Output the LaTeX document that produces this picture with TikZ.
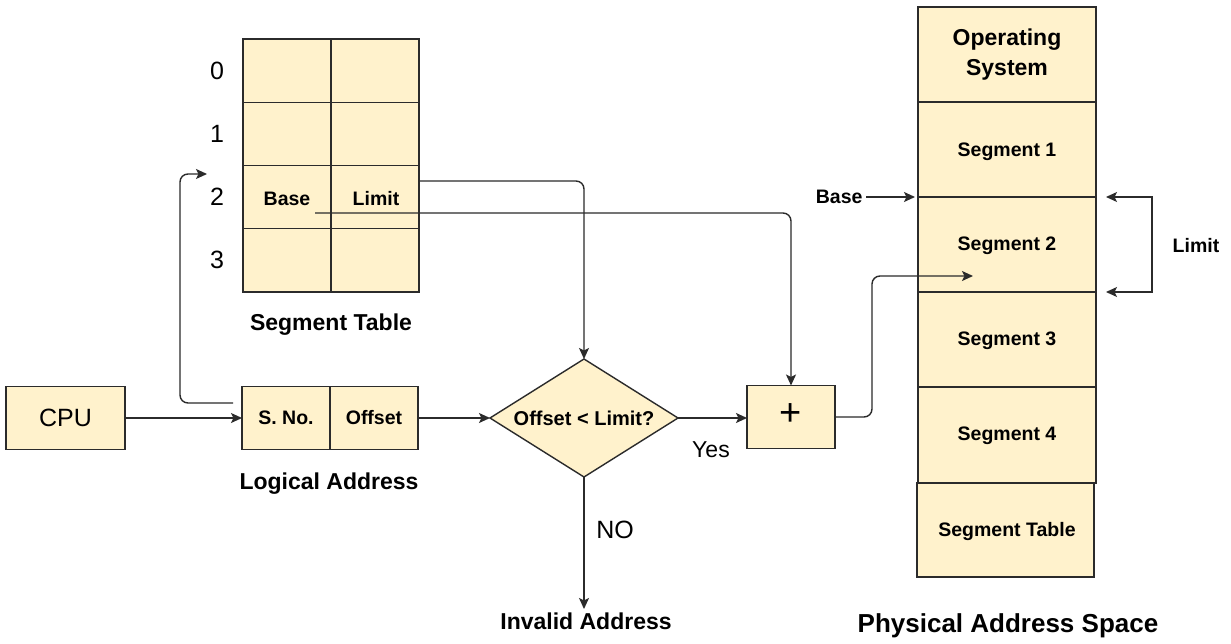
\documentclass[tikz,border=0pt]{standalone}
\usepackage{fontspec}
\setmainfont{Liberation Sans}
\usetikzlibrary{arrows.meta,shapes.geometric,calc}
\definecolor{boxfill}{HTML}{FFF2CC}
\definecolor{stroke}{HTML}{2B2B2B}
\begin{document}
\begin{tikzpicture}[x=1pt,y=-1pt,
  cellbox/.style={draw=stroke,fill=boxfill,line width=1.4pt,inner sep=0pt,outer sep=0pt},
  bl/.style={font=\fontsize{19.5}{22}\selectfont\bfseries},
  bigl/.style={font=\fontsize{23}{27}\selectfont\bfseries},
  reg/.style={font=\fontsize{25}{28}\selectfont},
  conn/.style={draw=stroke,line width=1.4pt,rounded corners=8pt},
  tip/.style={-{Stealth[length=11pt,width=10pt,inset=2.5pt]}},
  tipb/.style={{Stealth[length=11pt,width=10pt,inset=2.5pt]}-{Stealth[length=11pt,width=10pt,inset=2.5pt]}}
]
\useasboundingbox (0,0) rectangle (1231,644);
\fill[white] (0,0) rectangle (1231,644);

% Segment table
\foreach \r/\y in {0/70.625,1/133.875,2/197.125,3/260.375}{
  \node[cellbox,minimum width=88,minimum height=63.25] (ta\r) at (287,\y) {};
  \node[cellbox,minimum width=88,minimum height=63.25] (tb\r) at (375,\y) {};
  \node[reg,anchor=center] (rl\r) at (217,\y) {\r};
}
\node[bl] (basetxt) at (287,199) {Base};
\node[bl] (limtxt) at (376,199) {Limit};
\node[bigl] (sttitle) at (331,325) {Segment Table};

% CPU and logical address
\node[cellbox,minimum width=119,minimum height=63] (cpu) at (65.5,418) {};
\node[reg] at (cpu.center) {CPU};
\node[cellbox,minimum width=88,minimum height=63] (sno) at (286,418) {};
\node[bl] at (sno.center) {S. No.};
\node[cellbox,minimum width=88,minimum height=63] (off) at (374,418) {};
\node[bl] at (off.center) {Offset};
\node[bigl] (latitle) at (329,484) {Logical Address};

% Diamond
\node[draw=stroke,fill=boxfill,line width=1.4pt,shape=diamond,minimum width=188,minimum height=118,inner sep=0pt,outer sep=0pt] (dia) at (584,418) {};
\node[font=\fontsize{20}{23}\selectfont\bfseries] at (dia.center) {Offset < Limit?};

% Plus
\node[cellbox,minimum width=88,minimum height=63] (plus) at (791,417) {};
\node[font=\fontsize{38}{40}\selectfont] at (791,415) {+};
\node[font=\fontsize{23}{26}\selectfont] (yes) at (711,450) {Yes};
\node[font=\fontsize{25}{28}\selectfont] (no) at (615,530) {NO};
\node[bigl,anchor=north] (invalid) at (586,609) {Invalid Address};

% Physical memory
\node[cellbox,minimum width=178,minimum height=95] (os) at (1007,54.5) {};
\node[font=\fontsize{23}{30}\selectfont\bfseries,align=center] at (os.center) {Operating\\System};
\node[cellbox,minimum width=178,minimum height=95] (s1) at (1007,149.5) {};
\node[bl] at (1007,152) {Segment 1};
\node[cellbox,minimum width=178,minimum height=95] (s2) at (1007,244.5) {};
\node[bl] at (1007,246) {Segment 2};
\node[cellbox,minimum width=178,minimum height=95] (s3) at (1007,339.5) {};
\node[bl] at (1007,341) {Segment 3};
\node[cellbox,minimum width=178,minimum height=96] (s4) at (1007,435) {};
\node[bl] at (1007,436) {Segment 4};
\node[cellbox,minimum width=177,minimum height=94] (stbl) at (1005.5,530) {};
\node[bl] at (1007,531) {Segment Table};
\node[font=\fontsize{26}{30}\selectfont\bfseries] (pas) at (1008,626) {Physical Address Space};

\node[bl,anchor=east] (baselbl) at (866,197) {Base};
\node[bl] (limitlbl) at (1196,246) {Limit};

% coordinates
\coordinate (snoout) at (233,403);
\coordinate (rowin) at (207,174);
\coordinate (baseout) at (315,213);
\coordinate (limout) at (419,181);
\coordinate (seg2in) at (973,276);
\coordinate (baseat) at (915,197);
\coordinate (lt) at (1106,197);
\coordinate (lb) at (1106,292);

% connectors
\draw[conn,tip] (cpu.east) -- (sno.west);
\draw[conn,tip] (snoout) -- (180,403) -- (180,174) -- (rowin);
\draw[conn,tip] (limout) -- (584,181) -- (dia.north);
\draw[conn,tip] (baseout) -- (791,213) -- (plus.north);
\draw[conn,tip] (off.east) -- (dia.west);
\draw[conn,tip] (dia.east) -- (dia.east -| plus.west);
\draw[conn,tip] (dia.south) -- (dia.south |- invalid.north);
\draw[conn,tip] (plus.east) -- (872,417) -- (872,276) -- (seg2in);
\draw[conn,tip] (baselbl.east) -- (baseat);
\draw[conn,tipb,rounded corners=0pt] (lt) -- (1152,197) -- (1152,292) -- (lb);
\end{tikzpicture}
\end{document}
